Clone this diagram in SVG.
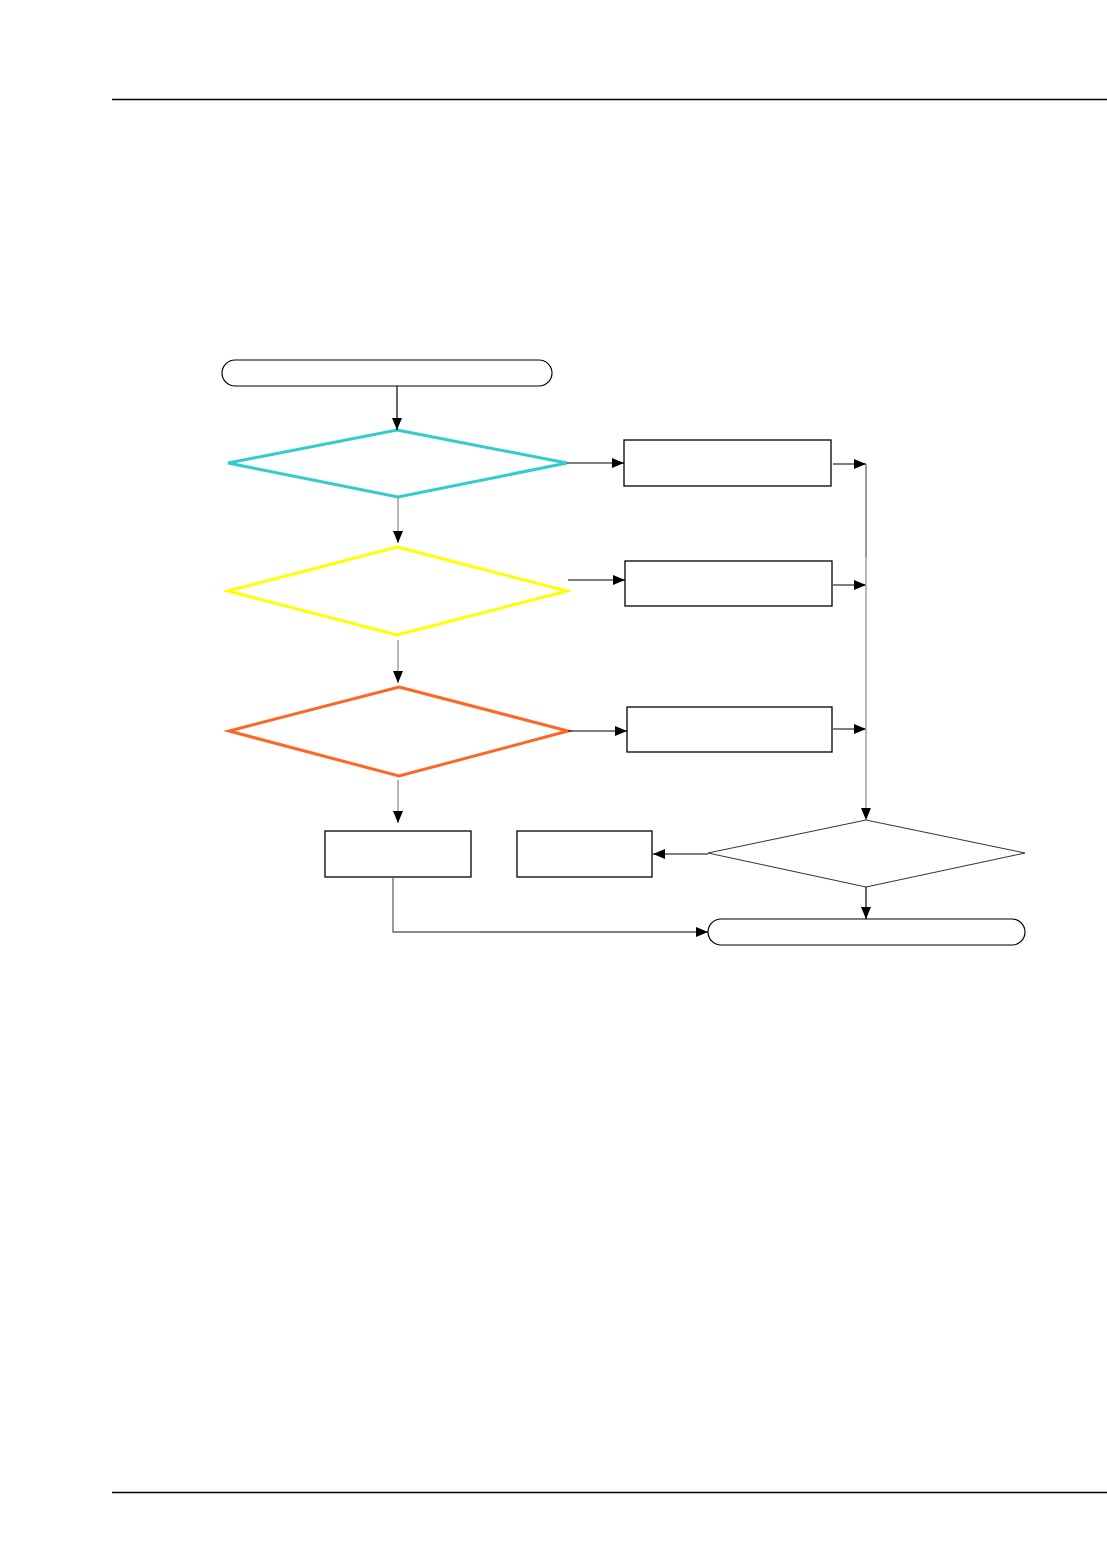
<svg xmlns="http://www.w3.org/2000/svg" width="1107" height="1554" viewBox="0 0 1107 1554">
<style>
.box{fill:#fff;stroke:#000;stroke-width:1.3}
.term{fill:#fff;stroke:#000;stroke-width:1.2}
.c{fill:none;stroke:#000;stroke-width:1.2}
.g{fill:none;stroke:#999;stroke-width:1.4}
.dg{fill:none;stroke:#666;stroke-width:1.3}
.rule{stroke:#000;stroke-width:1.3}
</style>
<defs>
<marker id="ah" viewBox="0 0 12 10" refX="12" refY="5" markerWidth="12" markerHeight="10" markerUnits="userSpaceOnUse" orient="auto">
<path d="M0,0 L12,5 L0,10 Z" fill="#000"/>
</marker>
</defs>
<rect width="1107" height="1554" fill="#fff"/>
<line class="rule" x1="112" y1="99.5" x2="1107" y2="99.5"/>
<line class="rule" x1="112" y1="1492.5" x2="1107" y2="1492.5"/>

<g id="start"><rect class="term" x="222" y="360" width="330" height="26" rx="13"/></g>
<g id="d1"><polygon points="397,430 567,463 398,497 228,463" fill="#fff" stroke="#33CCCC" stroke-width="3"/></g>
<g id="d2"><polygon points="397,547 567,591 397,635 228,591" fill="#fff" stroke="#FFFF00" stroke-width="3"/></g>
<g id="d3"><polygon points="399,687 568,731 399,776 229,731" fill="#fff" stroke="#FF6622" stroke-width="3"/></g>
<g id="b1"><rect class="box" x="624" y="440" width="207" height="46"/></g>
<g id="b2"><rect class="box" x="625" y="561" width="207" height="45"/></g>
<g id="b3"><rect class="box" x="627" y="707" width="205" height="45"/></g>
<g id="b4"><rect class="box" x="325" y="831" width="146" height="46"/></g>
<g id="b5"><rect class="box" x="517" y="831" width="135" height="46"/></g>
<g id="d4"><polygon points="866,820 1025,853 866,887 708,853" fill="#fff" stroke="#333" stroke-width="1"/></g>
<g id="end"><rect class="term" x="708" y="919" width="317" height="26" rx="13"/></g>

<g id="connectors">
<line class="c" x1="397" y1="386" x2="397" y2="430" marker-end="url(#ah)"/>
<line class="g" x1="398" y1="497" x2="398" y2="543" marker-end="url(#ah)"/>
<line class="g" x1="398" y1="640" x2="398" y2="683" marker-end="url(#ah)"/>
<line class="g" x1="398" y1="780" x2="398" y2="823" marker-end="url(#ah)"/>
<line class="c" x1="567" y1="463" x2="624" y2="463" marker-end="url(#ah)"/>
<line class="c" x1="568" y1="580" x2="625" y2="580" marker-end="url(#ah)"/>
<line class="c" x1="568" y1="731" x2="627" y2="731" marker-end="url(#ah)"/>
<line class="c" x1="833" y1="464" x2="866" y2="464" marker-end="url(#ah)"/>
<line class="c" x1="833" y1="585" x2="866" y2="585" marker-end="url(#ah)"/>
<line class="c" x1="833" y1="729" x2="866" y2="729" marker-end="url(#ah)"/>
<line class="dg" x1="866" y1="464" x2="866" y2="557"/>
<line class="g" x1="866" y1="557" x2="866" y2="820" marker-end="url(#ah)"/>
<line class="c" x1="708" y1="854" x2="653" y2="854" marker-end="url(#ah)"/>
<line class="c" x1="866" y1="887" x2="866" y2="919" marker-end="url(#ah)"/>
<polyline class="dg" points="393,877 393,932 480,932"/>
<line class="c" x1="480" y1="932" x2="708" y2="932" marker-end="url(#ah)"/>
</g>
</svg>
